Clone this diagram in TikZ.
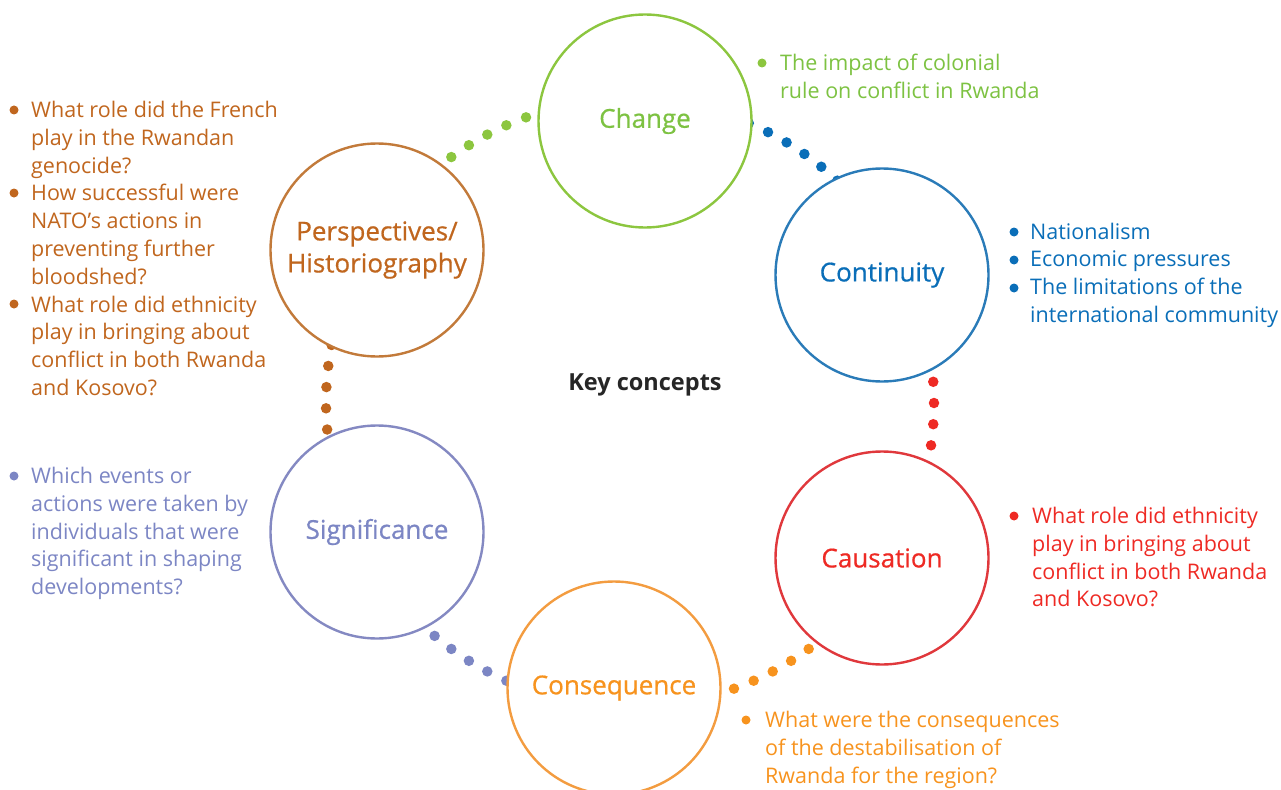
\documentclass[tikz,border=0pt]{standalone}
\usepackage{fontspec}
\setmainfont{Open Sans}
\newfontfamily\labelfont[FakeBold=0.6]{Open Sans}
\usetikzlibrary{calc}
\definecolor{cgreen}{HTML}{7DC242}
\definecolor{cgreenl}{HTML}{8CC63F}
\definecolor{cblue}{HTML}{0A6EB8}
\definecolor{cbluel}{HTML}{2A7BB8}
\definecolor{cred}{HTML}{EE2A24}
\definecolor{credl}{HTML}{E0383C}
\definecolor{corange}{HTML}{F7931E}
\definecolor{corangel}{HTML}{F39C40}
\definecolor{cpurple}{HTML}{7C86C4}
\definecolor{cpurplel}{HTML}{8489C2}
\definecolor{cbrown}{HTML}{C0661E}
\definecolor{cbrownl}{HTML}{C27A3A}
\definecolor{ckey}{HTML}{262626}
\newcommand\txtlines[1]{\begin{tabular}[t]{@{}l@{}}#1\end{tabular}}
\begin{document}
\begin{tikzpicture}[x=1pt,y=-1pt,
  conceptcircle/.style={circle, draw, line width=2.4pt, fill=white, minimum size=213pt, inner sep=0pt,
    font=\labelfont\fontsize{26}{32}\selectfont, align=center},
  txt/.style={anchor=base west, inner sep=0pt, font=\fontsize{21.5}{27.8}\selectfont},
  bul/.style={circle, fill, inner sep=0pt, minimum size=9pt},
  ringdot/.style={circle, fill, inner sep=0pt, minimum size=10.5pt}]
\path[use as bounding box] (0,0) rectangle (1281,789);
\coordinate (hub) at (630,403);
% dotted connectors along the ring
\foreach \a in {130,126,122,118,114,110,106} \node[ringdot, cgreenl] at ($(hub)+(-\a:304)$) {};
\foreach \a in {67,63,59,55,51,47,43} \node[ringdot, cblue] at ($(hub)+(-\a:304)$) {};
\foreach \a in {8,4,0,-4,-8,-12} \node[ringdot, cred] at ($(hub)+(-\a:304)$) {};
\foreach \a in {-50,-54,-58,-62,-66,-70,-74} \node[ringdot, corange] at ($(hub)+(-\a:304)$) {};
\foreach \a in {226,230,234,238,242,246,250} \node[ringdot, cpurple] at ($(hub)+(-\a:304)$) {};
\foreach \a in {165,169,173,177,181,185,189} \node[ringdot, cbrown] at ($(hub)+(-\a:304)$) {};
% concept circles
\node[conceptcircle, draw=cgreenl, text=cgreen] (change) at (645,121) {Change};
\node[conceptcircle, draw=cbluel, text=cblue] (continuity) at (882,275) {Continuity};
\node[conceptcircle, draw=credl, text=cred] (causation) at (882,558) {Causation};
\node[conceptcircle, draw=corangel, text=corange] (consequence) at (614,688) {Consequence};
\node[conceptcircle, draw=cpurplel, text=cpurple] (significance) at (377,532) {Significance};
\node[conceptcircle, draw=cbrownl, text=cbrown] (perspectives) at (377,250) {Perspectives/\\Historiography};
\node[font=\bfseries\fontsize{23.5}{28}\selectfont, text=ckey] (key) at (645,385) {Key concepts};
% Change
\node[bul, cgreenl] (bch) at (762,63) {};
\node[txt, text=cgreen] (tch) at (780,71) {\txtlines{The impact of colonial\\rule on conflict in Rwanda}};
% Continuity
\node[bul, cblue] (bco1) at (1014,232) {};
\node[bul, cblue] (bco2) at (1014,260) {};
\node[bul, cblue] (bco3) at (1014,288) {};
\node[txt, text=cblue] (tco) at (1030,239) {\txtlines{Nationalism\\Economic pressures\\The limitations of the\\international community}};
% Causation
\node[bul, cred] (bca) at (1014,516) {};
\node[txt, text=cred] (tca) at (1032,523.5) {\txtlines{What role did ethnicity\\play in bringing about\\conflict in both Rwanda\\and Kosovo?}};
% Consequence
\node[bul, corange] (bcq) at (746,720) {};
\node[txt, text=corange] (tcq) at (765,727.5) {\txtlines{What were the consequences\\of the destabilisation of\\Rwanda for the region?}};
% Significance
\node[bul, cpurple] (bsi) at (14,476) {};
\node[txt, text=cpurple] (tsi) at (31,483.5) {\txtlines{Which events or\\actions were taken by\\individuals that were\\significant in shaping\\developments?}};
% Perspectives
\node[bul, cbrown] (bpe1) at (14,110) {};
\node[bul, cbrown] (bpe2) at (14,193) {};
\node[bul, cbrown] (bpe3) at (14,304) {};
\node[txt, text=cbrown] (tpe1) at (31,117.5) {\txtlines{What role did the French\\play in the Rwandan\\genocide?}};
\node[txt, text=cbrown] (tpe2) at (31,200.9) {\txtlines{How successful were\\NATO’s actions in\\preventing further\\bloodshed?}};
\node[txt, text=cbrown] (tpe3) at (31,312.1) {\txtlines{What role did ethnicity\\play in bringing about\\conflict in both Rwanda\\and Kosovo?}};
\end{tikzpicture}
\end{document}
